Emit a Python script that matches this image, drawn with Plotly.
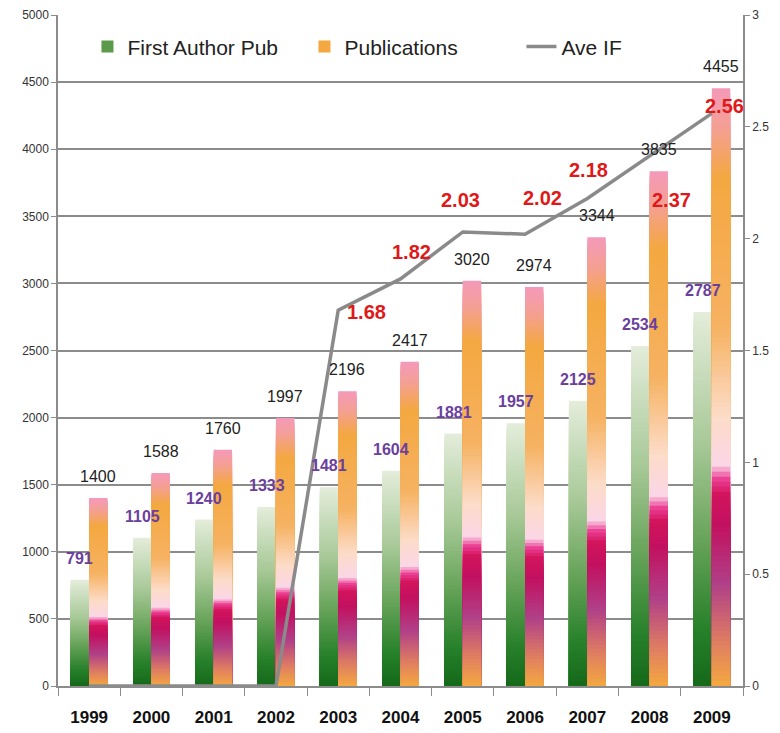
import plotly.graph_objects as go

years = ['1999', '2000', '2001', '2002', '2003', '2004', '2005', '2006', '2007', '2008', '2009']
first_author = [791, 1105, 1240, 1333, 1481, 1604, 1881, 1957, 2125, 2534, 2787]
publications = [1400, 1588, 1760, 1997, 2196, 2417, 3020, 2974, 3344, 3835, 4455]
ave_if = [0, 0, 0, 0, 1.68, 1.82, 2.03, 2.02, 2.18, 2.37, 2.56]

# label offsets (pixels) for the Ave IF value labels, style only
if_label_shift = [None, None, None, None, (28, -2), (11, 27), (-2, 32), (17, 36),
                  (1, 28), (22, -44), (13, 7)]

FONT = 'Liberation Sans, Arial, sans-serif'

green_scale = [(0.0, '#15691a'), (0.15, '#27802a'), (0.4, '#6aa55c'),
               (0.65, '#a8c998'), (1.0, '#e4eddb')]
pub_scale = [(0.0, '#f4a840'), (0.07, '#e08060'), (0.17, '#b04088'),
             (0.27, '#c21060'), (0.32, '#d2145c'), (0.345, '#ea3c92'),
             (0.37, '#fbd6e6'), (0.45, '#fcdcc8'), (0.6, '#f6b262'),
             (0.85, '#f4a840'), (0.93, '#f4a090'), (1.0, '#f49abb')]


def hex2rgb(h):
    h = h.lstrip('#')
    return [int(h[i:i + 2], 16) for i in (0, 2, 4)]


def sample(scale, t):
    for (p0, c0), (p1, c1) in zip(scale[:-1], scale[1:]):
        if p0 <= t <= p1:
            f = 0 if p1 == p0 else (t - p0) / (p1 - p0)
            a, b = hex2rgb(c0), hex2rgb(c1)
            r = [round(a[i] + (b[i] - a[i]) * f) for i in range(3)]
            return f'rgb({r[0]},{r[1]},{r[2]})'
    return scale[-1][1]


N = 120
fig = go.Figure()


def add_gradient_bars(values, scale, name, group, legend_color):
    for k in range(N - 1, -1, -1):
        frac = (k + 1) / N
        fig.add_trace(go.Bar(
            x=years, y=[v * frac for v in values],
            offsetgroup=group, legendgroup=group,
            marker=dict(color=sample(scale, (k + 0.5) / N), line=dict(width=0)),
            showlegend=False, hoverinfo='skip',
        ))
    # zero-height entry that only carries the legend item
    fig.add_trace(go.Bar(x=years[:1], y=[0], name=name, legendgroup=group,
                         offsetgroup=group, hoverinfo='skip',
                         marker=dict(color=legend_color, line=dict(width=0)), showlegend=True))


add_gradient_bars(first_author, green_scale, 'First Author Pub', 'fa', '#5a9a4a')
add_gradient_bars(publications, pub_scale, 'Publications', 'pub', '#f4a840')

fig.add_trace(go.Scatter(
    x=years, y=ave_if, yaxis='y2', name='Ave IF', mode='lines',
    line=dict(color='#8a8a8a', width=3.5), cliponaxis=False,
))

BAR_OFFSET = 9.2
annotations = []
for i, v in enumerate(first_author):
    annotations.append(dict(x=i, y=v, xref='x', yref='y', text=str(v), showarrow=False,
                            xshift=-BAR_OFFSET, yshift=11, yanchor='bottom',
                            font=dict(family=FONT, size=16, color='#6b3f9e', weight='bold')))
for i, v in enumerate(publications):
    annotations.append(dict(x=i, y=v, xref='x', yref='y', text=str(v), showarrow=False,
                            xshift=BAR_OFFSET, yshift=11, yanchor='bottom',
                            font=dict(family=FONT, size=16, color='#222222')))
for i, (v, sh) in enumerate(zip(ave_if, if_label_shift)):
    if v == 0 or sh is None:
        continue
    annotations.append(dict(x=i, y=v, xref='x', yref='y2', text=f'{v:.2f}', showarrow=False,
                            xshift=sh[0], yshift=sh[1],
                            font=dict(family=FONT, size=20, color='#e01818', weight='bold')))

fig.update_layout(
    width=780, height=733,
    margin=dict(l=58, r=37, t=15, b=47, autoexpand=False),
    paper_bgcolor='white', plot_bgcolor='white',
    barmode='group', bargap=0.41, bargroupgap=0,
    font=dict(family=FONT, color='#222222'),
    annotations=annotations,
    legend=dict(orientation='h', x=0.043, y=0.983, xanchor='left', yanchor='top',
                bgcolor='rgba(255,255,255,1)', font=dict(family=FONT, size=21, color='#222222'),
                traceorder='normal', entrywidth=172, entrywidthmode='pixels'),
    xaxis=dict(type='category', categoryorder='array', categoryarray=years,
               range=[-0.5, len(years) - 0.5], automargin=False,
               showline=True, linecolor='#8c8c8c', linewidth=1.5,
               ticks='outside', tickson='boundaries', ticklen=8, tickcolor='#8c8c8c',
               tickfont=dict(family=FONT, size=17, color='#111111', weight='bold'),
               ticklabelstandoff=15),
    yaxis=dict(range=[0, 5000], dtick=500, showgrid=True, gridcolor='#8c8c8c', gridwidth=1.5,
               showline=True, linecolor='#8c8c8c', linewidth=1.5, ticks='outside', ticklen=5,
               tickcolor='#8c8c8c', tickfont=dict(family=FONT, size=12, color='#333333'),
               zeroline=False, automargin=False),
    yaxis2=dict(range=[0, 3], dtick=0.5, overlaying='y', side='right', showgrid=False,
                showline=True, linecolor='#8c8c8c', linewidth=1.5, ticks='outside', ticklen=5,
                tickcolor='#8c8c8c', tickfont=dict(family=FONT, size=12, color='#333333'),
                zeroline=False, automargin=False),
)

fig.write_html('out.html', config={'displayModeBar': False},
               post_script="document.body.style.margin='0';document.body.style.overflow='hidden';")
